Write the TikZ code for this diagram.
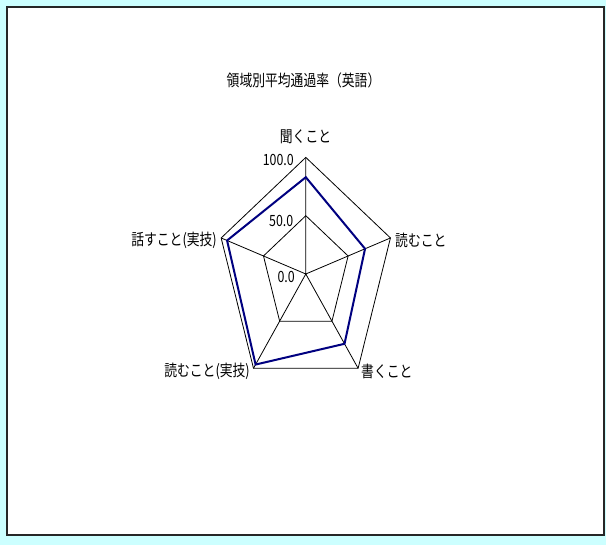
\documentclass[tikz,border=0pt]{standalone}
\usepackage{fontspec}
\newfontfamily\jpfont[FakeStretch=0.8]{Noto Sans CJK JP}
\definecolor{bgcyan}{HTML}{CCFFFF}
\definecolor{datanavy}{HTML}{000080}
\begin{document}
\begin{tikzpicture}[x=1pt,y=-1pt]
	\tikzset{
		every node/.style={font=\jpfont\fontsize{16}{18}\selectfont,inner sep=0pt},
		% khung
		khung/.style={draw=black!85,line width=1.6pt,fill=white},
		% luoi
		luoi/.style={draw=black,line width=0.8pt,line join=miter},
		% du lieu
		dulieu/.style={draw=datanavy,line width=2pt,line join=miter},
		nhan/.style={font=\jpfont\fontsize{16}{18}\selectfont},
		so/.style={anchor=east,font=\jpfont\fontsize{15.5}{18}\selectfont},
	}
	\useasboundingbox[fill=bgcyan](0,0)rectangle(606,545);
	\draw[khung](7,7)rectangle(604,535);
	%
	\node (tieude) at (303.5,80) {領域別平均通過率（英語）};
	%
	\begin{scope}[shift={(305.8,274)},x=0.89pt,y=1.166pt]
		\coordinate (O) at (0,0);
		\coordinate (a1) at (90:100);
		\coordinate (a2) at (18:100);
		\coordinate (a3) at (-54:100);
		\coordinate (a4) at (-126:100);
		\coordinate (a5) at (162:100);
		% luoi
		\draw[luoi](a1)--(a2)--(a3)--(a4)--(a5)--cycle;
		\draw[luoi](90:50)--(18:50)--(-54:50)--(-126:50)--(162:50)--cycle;
		\draw[luoi](O)--(a1) (O)--(a2) (O)--(a3) (O)--(a4) (O)--(a5);
		% du lieu
		\draw[dulieu](90:83)--(18:70)--(-54:74)--(-126:96)--(162:93)--cycle;
	\end{scope}
	%
	\node[nhan] (nghe) at (305.5,137) {聞くこと};
	\node[nhan,anchor=west] (doc) at (395,240) {読むこと};
	\node[nhan,anchor=west] (viet) at (361,371) {書くこと};
	\node[nhan,anchor=east] (docthuc) at (250,371) {読むこと(実技)};
	\node[nhan,anchor=east] (noi) at (217,240) {話すこと(実技)};
	%
	\node[so] (s100) at (294,159.5) {100.0};
	\node[so] (s50) at (293.5,220.5) {50.0};
	\node[so] (s0) at (295,277) {0.0};
\end{tikzpicture}
\end{document}
